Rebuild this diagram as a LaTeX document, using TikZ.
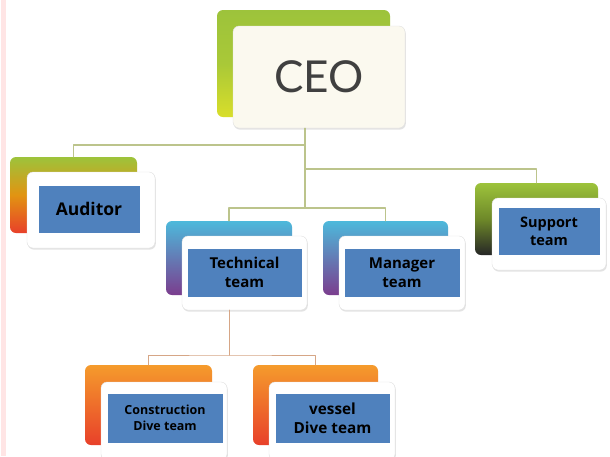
\documentclass[tikz,border=0pt]{standalone}
\usepackage{fontspec}
\setmainfont{Open Sans}
\newfontfamily\ceofont{Lato}
\usepackage{tikz}
\usetikzlibrary{shadows,calc}
\definecolor{labelblue}{HTML}{4F81BD}
\definecolor{ceocream}{HTML}{FBF9EF}
\definecolor{olivelink}{HTML}{BCC48C}
\definecolor{orangelink}{HTML}{D6A686}
\definecolor{leafgreen}{HTML}{9DC33B}
\definecolor{lemon}{HTML}{D9DE2A}
\definecolor{skyblue}{HTML}{4DB9DB}
\definecolor{plum}{HTML}{7B3D8E}
\definecolor{tangerine}{HTML}{F59B2C}
\definecolor{firered}{HTML}{E8402A}

\begin{document}
\begin{tikzpicture}[x=1pt,y=-1pt,line cap=round,line join=round,
  backbox/.style={rounded corners=6pt,inner sep=0pt},
  card/.style={rounded corners=6pt,inner sep=0pt,fill=white,draw=black!12,
    drop shadow={opacity=0.22,shadow xshift=0.8pt,shadow yshift=-1.6pt}},
  tag/.style={fill=labelblue,draw=white,line width=0.6pt,inner sep=0pt,
    align=center,text=black},
  link/.style={draw=olivelink,line width=1.1pt},
  sublink/.style={draw=orangelink,line width=1pt}]
\useasboundingbox (0,0) rectangle (610,456);
\clip (0,0) rectangle (610,456);
\fill[white] (0,0) rectangle (610,456);
\fill[pink!40] (1,0) rectangle (6,456);
% CEO
\node[backbox,minimum width=173pt,minimum height=107pt,top color=leafgreen,bottom color=lemon,middle color=leafgreen!80!lemon] (ceoback) at (303.5,63.5) {};
\node[card,fill=ceocream,minimum width=172pt,minimum height=102pt,font=\ceofont\fontsize{44}{48}\selectfont,text=black!75] (ceo) at (319,77) {CEO};
% Auditor
\node[backbox,minimum width=127pt,minimum height=76pt,top color=leafgreen,bottom color=firered,middle color=orange!70!leafgreen] (audback) at (73.5,195) {};
\node[card,minimum width=128pt,minimum height=76pt] (audcard) at (91,210) {};
\node[tag,minimum width=102pt,minimum height=48pt,font=\bfseries\fontsize{17.5}{20}\selectfont] (aud) at (89,209) {Auditor};
% Technical team
\node[backbox,minimum width=126pt,minimum height=74pt,top color=skyblue,bottom color=plum] (techback) at (229,258) {};
\node[card,minimum width=125pt,minimum height=74pt] (techcard) at (244.5,273) {};
\node[tag,minimum width=115pt,minimum height=49pt,font=\bfseries\fontsize{15}{19}\selectfont] (tech) at (244.5,272.5) {Technical\\team};
% Manager team
\node[backbox,minimum width=125pt,minimum height=74pt,top color=skyblue,bottom color=plum] (manback) at (385.5,258) {};
\node[card,minimum width=126pt,minimum height=74pt] (mancard) at (402,273) {};
\node[tag,minimum width=116pt,minimum height=49pt,font=\bfseries\fontsize{15}{19}\selectfont] (man) at (402,272.5) {Manager\\team};
% Support team
\node[backbox,minimum width=123pt,minimum height=72pt,top color=leafgreen,bottom color=black!85,middle color=leafgreen!70!black] (supback) at (536.5,219) {};
\node[card,minimum width=114pt,minimum height=72pt] (supcard) at (549,234) {};
\node[tag,minimum width=102pt,minimum height=48pt,font=\bfseries\fontsize{14.5}{18}\selectfont] (sup) at (549,231) {Support\\team};
% Construction Dive team
\node[backbox,minimum width=127pt,minimum height=80pt,top color=tangerine,bottom color=firered] (consback) at (148.5,405) {};
\node[card,minimum width=126pt,minimum height=78pt] (conscard) at (164,421) {};
\node[tag,minimum width=116pt,minimum height=50pt,font=\bfseries\fontsize{12.5}{16}\selectfont] (cons) at (165,418) {Construction\\Dive team};
% vessel Dive team
\node[backbox,minimum width=125pt,minimum height=80pt,top color=tangerine,bottom color=firered] (vesback) at (315.5,405) {};
\node[card,minimum width=126pt,minimum height=78pt] (vescard) at (332,421) {};
\node[tag,minimum width=115pt,minimum height=50pt,font=\bfseries\fontsize{15.3}{19}\selectfont] (ves) at (332.5,418) {vessel\\Dive team};
% links
\coordinate (trunk) at (305,208);
\coordinate (audjoin) at (305,145);
\coordinate (supjoin) at (305,169);
\coordinate (split) at (229,355);
\draw[link] (ceo.south -| trunk) -- (trunk);
\draw[link] (audback.north) |- (audjoin);
\draw[link] (supback.north) |- (supjoin);
\draw[link] (techback.north) |- (trunk) -| (manback.north);
\draw[sublink] (techcard.south -| techback) -- (split);
\draw[sublink] (consback.north) |- (split) -| (vesback.north);
\end{tikzpicture}
\end{document}
